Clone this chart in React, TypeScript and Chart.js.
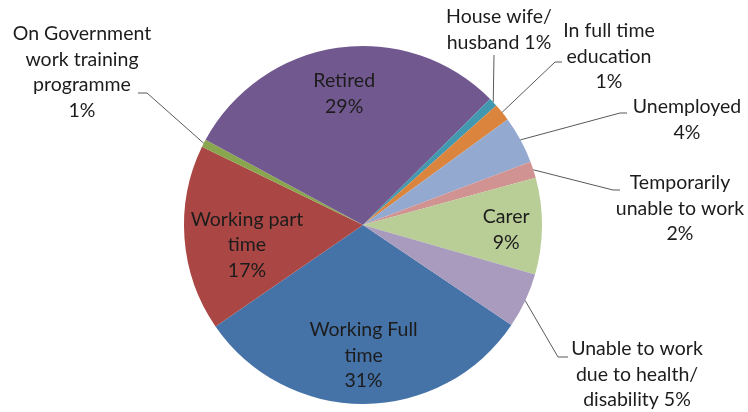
import React, { useEffect, useRef } from "react";
import { Chart, registerables } from "chart.js";

Chart.register(...registerables);

const categories = [
  "Working Full time",
  "Working part time",
  "On Government work training programme",
  "Retired",
  "House wife/ husband",
  "In full time education",
  "Unemployed",
  "Temporarily unable to work",
  "Carer",
  "Unable to work due to health/ disability",
];
const values = [31.0, 16.8, 0.7, 29.7, 0.8, 1.6, 4.3, 1.5, 8.7, 5.0];
const percentLabels = ["31%", "17%", "1%", "29%", "1%", "1%", "4%", "2%", "9%", "5%"];
const labelLines = [
  ["Working Full", "time", "{p}"],
  ["Working part", "time", "{p}"],
  ["On Government", "work training", "programme", "{p}"],
  ["Retired", "{p}"],
  ["House wife/", "husband {p}"],
  ["In full time", "education", "{p}"],
  ["Unemployed", "{p}"],
  ["Temporarily", "unable to work", "{p}"],
  ["Carer", "{p}"],
  ["Unable to work", "due to health/", "disability {p}"],
];
const colors = [
  "#4572A7",
  "#AA4643",
  "#89A54E",
  "#71588F",
  "#4198AF",
  "#DB843D",
  "#93A9CF",
  "#D19392",
  "#B9CD96",
  "#A99BBD",
];

// Layout of the data labels (not data)
type Placement =
  | { inside: true; rf: number; dy: number }
  | { inside: false; x: number; y: number; path: [number, number][] };
const placements: Placement[] = [
  { inside: true, rf: 0.73, dy: 0 },
  { inside: true, rf: 0.65, dy: 11 },
  { inside: false, x: 82, y: 34, path: [[147, 93], [138, 93]] },
  { inside: true, rf: 0.74, dy: 0 },
  { inside: false, x: 499, y: 17, path: [[494, 55]] },
  { inside: false, x: 609, y: 31, path: [[555, 62], [562, 62]] },
  { inside: false, x: 687, y: 107, path: [[620, 113], [627, 113]] },
  { inside: false, x: 680, y: 183, path: [[613, 190], [620, 190]] },
  { inside: true, rf: 0.8, dy: 4 },
  { inside: false, x: 637, y: 349, path: [[558, 357], [568, 357]] },
];

const FONT = "19.5px Lato, 'Open Sans', sans-serif";
const LINE_H = 25.5;

const labelPlugin = {
  id: "pieLabels",
  afterDatasetsDraw(chart: any) {
    const ctx = chart.ctx as CanvasRenderingContext2D;
    const meta = chart.getDatasetMeta(0);
    ctx.save();
    ctx.font = FONT;
    ctx.textAlign = "center";
    ctx.textBaseline = "middle";
    meta.data.forEach((arc: any, i: number) => {
      const { x, y, startAngle, endAngle, outerRadius } = arc.getProps(
        ["x", "y", "startAngle", "endAngle", "outerRadius"],
        true
      );
      const mid = (startAngle + endAngle) / 2;
      const lines = labelLines[i].map((l) => l.replace("{p}", percentLabels[i]));
      const p = placements[i];
      if (p.inside) {
        const cx = x + Math.cos(mid) * outerRadius * p.rf;
        const cy = y + Math.sin(mid) * outerRadius * p.rf + p.dy;
        const y0 = cy - ((lines.length - 1) * LINE_H) / 2;
        ctx.fillStyle = "#1c1c1c";
        lines.forEach((l, k) => ctx.fillText(l, cx, y0 + k * LINE_H));
      } else {
        const ex = x + Math.cos(mid) * outerRadius;
        const ey = y + Math.sin(mid) * outerRadius;
        ctx.strokeStyle = "#595959";
        ctx.lineWidth = 1;
        ctx.beginPath();
        ctx.moveTo(ex, ey);
        p.path.forEach(([px, py]) => ctx.lineTo(px, py));
        ctx.stroke();
        ctx.fillStyle = "#1c1c1c";
        lines.forEach((l, k) => ctx.fillText(l, p.x, p.y + k * LINE_H));
      }
    });
    ctx.restore();
  },
};

export default function App() {
  const ref = useRef<HTMLCanvasElement | null>(null);
  useEffect(() => {
    document.body.style.margin = "0";
    const canvas = ref.current!;
    const chart = new Chart(canvas, {
      type: "pie",
      data: {
        labels: categories,
        datasets: [
          {
            data: values,
            backgroundColor: colors,
            borderWidth: 0,
          },
        ],
      },
      options: {
        responsive: false,
        animation: false,
        rotation: 124,
        layout: { padding: { left: 184, right: 206, top: 46, bottom: 8 } },
        plugins: {
          legend: { display: false },
          tooltip: { enabled: false },
        },
      },
      plugins: [labelPlugin],
    });
    return () => chart.destroy();
  }, []);
  return (
    <div style={{ width: 748, height: 412, background: "#fff" }}>
      <canvas ref={ref} width={748} height={412} />
    </div>
  );
}
